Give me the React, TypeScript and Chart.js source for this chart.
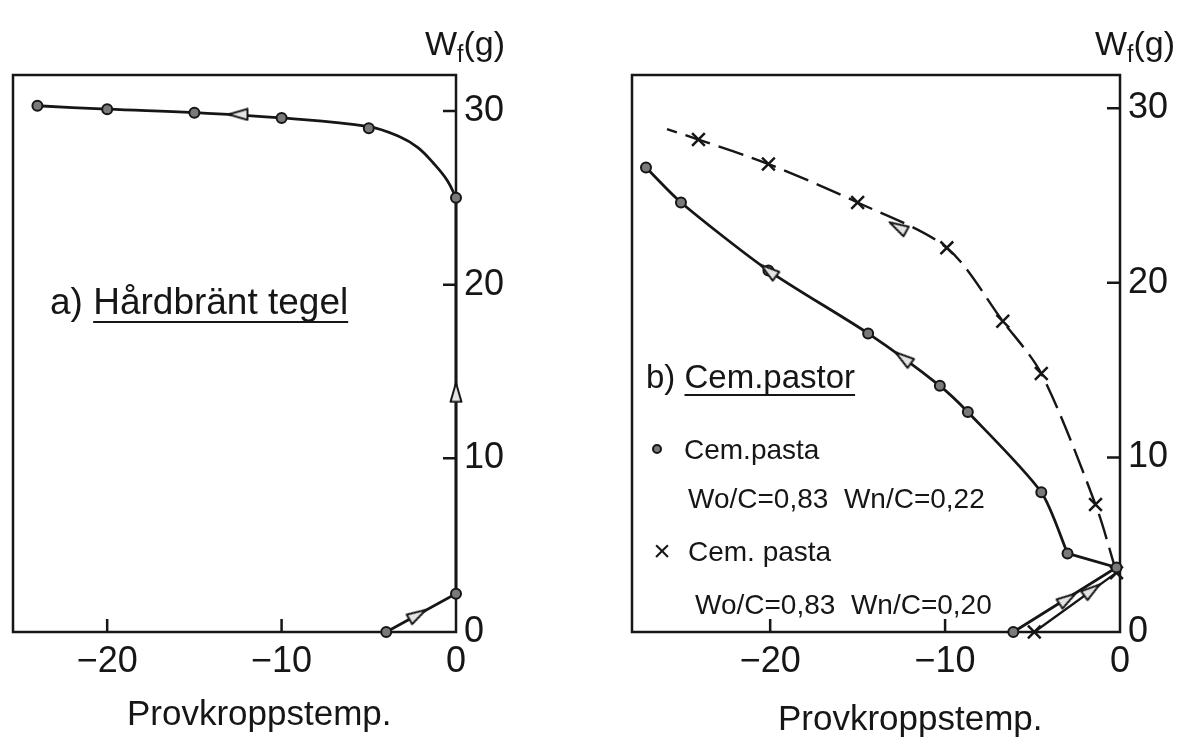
import { useEffect, useRef } from "react";
import { Chart, registerables } from "chart.js";

Chart.register(...registerables);

const FONT = "'Liberation Sans', Arial, sans-serif";
const INK = "#161616";

// ---------- panel a) Hårdbränt tegel ----------
const aTempMeasured = [-4, 0, 0, -5, -10, -15, -20, -24];
const aWfMeasured = [0, 2.2, 25.0, 29.0, 29.6, 29.9, 30.1, 30.3];
const aTempRise = [-4, 0, 0];
const aWfRise = [0, 2.2, 25.0];
const aTempCurve = [0, -0.5, -1.3, -2.2, -3.2, -5, -10, -15, -20, -24];
const aWfCurve = [25.0, 26.0, 27.0, 27.9, 28.5, 29.1, 29.6, 29.9, 30.1, 30.3];
const aTempArrow = [-2.2, 0, -12.5];
const aWfArrow = [1.0, 13.8, 29.8];
const aArrowAngle = [60, 0, -90];

// ---------- panel b) Cem.pastor ----------
// Cem.pasta W0/C=0,83 Wn/C=0,22 (circles)
const bTemp022 = [-27.1, -25.1, -20.1, -14.4, -10.3, -8.7, -4.5, -3.0, -0.2, -6.1];
const bWf022 = [26.6, 24.6, 20.7, 17.1, 14.1, 12.6, 8.0, 4.5, 3.7, 0];
const bTemp022Lower = [-6.1, -0.2, -3.0];
const bWf022Lower = [0, 3.7, 4.5];
const bTemp022Curve = [-3.0, -4.5, -8.7, -10.3, -14.4, -20.1, -25.1, -27.1];
const bWf022Curve = [4.5, 8.0, 12.6, 14.1, 17.1, 20.7, 24.6, 26.6];

// Cem.pasta W0/C=0,83 Wn/C=0,20 (crosses)
const bTemp020 = [-24.1, -20.1, -15.0, -9.9, -6.7, -4.5, -1.4, -0.2, -4.9];
const bWf020 = [28.2, 26.8, 24.6, 22.0, 17.8, 14.8, 7.3, 3.4, 0];
const bTemp020Lower = [-4.9, -0.2];
const bWf020Lower = [0, 3.4];
const bTemp020Curve = [-0.2, -1.4, -4.5, -6.7, -9.9, -15.0, -20.1, -24.1, -25.9];
const bWf020Curve = [3.4, 7.3, 14.8, 17.8, 22.0, 24.6, 26.8, 28.2, 28.8];

const bTempArrow = [-12.4, -20.1, -12.7, -3.0, -1.6];
const bWfArrow = [15.7, 20.7, 23.2, 1.9, 2.4];
const bArrowAngle = [-54, -53, -61, 57, 54];

// ---------- axes ----------
const xTickValues = [-20, -10, 0];
const xTickLabels = ["−20", "−10", "0"];
const yTickValues = [0, 10, 20, 30];
const yTickLabels = ["0", "10", "20", "30"];

const aXMin = -25.4;
const aYMax = 32.07;
const bXMin = -27.9;
const bYMax = 31.9;

const pts = (xs: number[], ys: number[]) => xs.map((x, i) => ({ x, y: ys[i] }));

function makeArrowImage(): HTMLCanvasElement {
  const c = document.createElement("canvas");
  c.width = 14;
  c.height = 22;
  const g = c.getContext("2d") as CanvasRenderingContext2D;
  g.beginPath();
  g.moveTo(7, 1.5);
  g.lineTo(12.5, 20.5);
  g.lineTo(1.5, 20.5);
  g.closePath();
  g.fillStyle = "#e4e4e4";
  g.fill();
  g.strokeStyle = INK;
  g.lineWidth = 2;
  g.lineJoin = "round";
  g.stroke();
  return c;
}

function drawWf(ctx: CanvasRenderingContext2D, rightX: number, baseline: number) {
  ctx.fillStyle = INK;
  ctx.textBaseline = "alphabetic";
  ctx.textAlign = "left";
  ctx.font = `34px ${FONT}`;
  const wW = ctx.measureText("W").width;
  const wg = ctx.measureText("(g)").width;
  ctx.font = `23px ${FONT}`;
  const wf = ctx.measureText("f").width;
  let x = rightX - (wW + wf + wg);
  ctx.font = `34px ${FONT}`;
  ctx.fillText("W", x, baseline);
  x += wW;
  ctx.font = `23px ${FONT}`;
  ctx.fillText("f", x, baseline + 7);
  x += wf;
  ctx.font = `34px ${FONT}`;
  ctx.fillText("(g)", x, baseline);
}

function drawText(ctx: CanvasRenderingContext2D, text: string, x: number, y: number, size: number, align: CanvasTextAlign = "left") {
  ctx.fillStyle = INK;
  ctx.textBaseline = "alphabetic";
  ctx.textAlign = align;
  ctx.font = `${size}px ${FONT}`;
  ctx.fillText(text, x, y);
}

function drawUnderlined(ctx: CanvasRenderingContext2D, prefix: string, body: string, x: number, y: number, size: number, gap: number) {
  drawText(ctx, prefix + body, x, y, size);
  ctx.font = `${size}px ${FONT}`;
  const p = ctx.measureText(prefix).width;
  const f = ctx.measureText(prefix + body).width;
  ctx.strokeStyle = INK;
  ctx.lineWidth = 2;
  ctx.beginPath();
  ctx.moveTo(x + p, y + gap);
  ctx.lineTo(x + f, y + gap);
  ctx.stroke();
}

function decorPlugin(drawTexts: (ctx: CanvasRenderingContext2D) => void) {
  return {
    id: "decor",
    beforeDatasetsDraw(chart: any) {
      const { ctx, chartArea: a, scales } = chart;
      ctx.save();
      ctx.strokeStyle = INK;
      ctx.lineWidth = 2.5;
      ctx.strokeRect(a.left, a.top, a.right - a.left, a.bottom - a.top);
      const xs = scales.x;
      const ys = scales.y;
      ctx.beginPath();
      xs.ticks.forEach((t: any) => {
        if (t.value > xs.min && t.value < xs.max) {
          const px = xs.getPixelForValue(t.value);
          ctx.moveTo(px, a.bottom);
          ctx.lineTo(px, a.bottom - 13);
        }
      });
      ys.ticks.forEach((t: any) => {
        if (t.value > ys.min && t.value < ys.max) {
          const py = ys.getPixelForValue(t.value);
          ctx.moveTo(a.right, py);
          ctx.lineTo(a.right - 13, py);
        }
      });
      ctx.stroke();
      ctx.restore();
    },
    afterDraw(chart: any) {
      const ctx = chart.ctx;
      ctx.save();
      drawTexts(ctx);
      ctx.restore();
    },
  };
}

function makeOptions(xMin: number, yMax: number, padLeft: number, yWidth: number) {
  const tickFont = { family: FONT, size: 36 };
  return {
    responsive: false,
    maintainAspectRatio: false,
    animation: false as const,
    devicePixelRatio: 1,
    layout: { padding: { left: padLeft, top: 75, right: 0, bottom: 0 } },
    plugins: { legend: { display: false }, tooltip: { enabled: false } },
    scales: {
      x: {
        type: "linear" as const,
        position: "bottom" as const,
        min: xMin,
        max: 0,
        afterBuildTicks: (s: any) => {
          s.ticks = xTickValues.map((v) => ({ value: v }));
        },
        afterFit: (s: any) => {
          s.height = 117;
        },
        grid: { display: false, drawTicks: false },
        border: { display: false },
        ticks: {
          font: tickFont,
          color: INK,
          padding: 8,
          maxRotation: 0,
          autoSkip: false,
          callback: (v: any) => xTickLabels[xTickValues.indexOf(Number(v))] ?? "",
        },
      },
      y: {
        type: "linear" as const,
        position: "right" as const,
        min: 0,
        max: yMax,
        afterBuildTicks: (s: any) => {
          s.ticks = yTickValues.map((v) => ({ value: v }));
        },
        afterFit: (s: any) => {
          s.width = yWidth;
        },
        grid: { display: false, drawTicks: false },
        border: { display: false },
        ticks: {
          font: tickFont,
          color: INK,
          padding: 8,
          crossAlign: "near" as const,
          autoSkip: false,
          callback: (v: any) => yTickLabels[yTickValues.indexOf(Number(v))] ?? "",
        },
      },
    },
  };
}

const lineBase = {
  showLine: true,
  pointRadius: 0,
  borderColor: INK,
  borderWidth: 2.8,
  clip: false as const,
};

const circleMarker = {
  showLine: false,
  pointStyle: "circle" as const,
  pointRadius: 5,
  pointBackgroundColor: "#7a7a7a",
  pointBorderColor: INK,
  pointBorderWidth: 2,
  clip: false as const,
};

function arrowMarker() {
  return {
    showLine: false,
    pointStyle: makeArrowImage(),
    pointRadius: 9,
    clip: false as const,
  };
}

function configA() {
  return {
    type: "scatter" as const,
    data: {
      datasets: [
        { ...arrowMarker(), data: pts(aTempArrow, aWfArrow), rotation: aArrowAngle },
        { ...circleMarker, data: pts(aTempMeasured, aWfMeasured) },
        { ...lineBase, data: pts(aTempRise, aWfRise), tension: 0 },
        { ...lineBase, data: pts(aTempCurve, aWfCurve), tension: 0.4 },
      ],
    },
    options: makeOptions(aXMin, aYMax, 13, 135),
    plugins: [
      decorPlugin((ctx) => {
        drawWf(ctx, 505, 55);
        drawUnderlined(ctx, "a) ", "Hårdbränt tegel", 50, 314, 37, 8);
        drawText(ctx, "Provkroppstemp.", 127, 725, 35);
      }),
    ],
  };
}

function configB() {
  return {
    type: "scatter" as const,
    data: {
      datasets: [
        { ...arrowMarker(), data: pts(bTempArrow, bWfArrow), rotation: bArrowAngle },
        { ...circleMarker, data: pts(bTemp022, bWf022) },
        {
          showLine: false,
          pointStyle: "crossRot" as const,
          pointRadius: 9,
          pointBorderColor: INK,
          pointBorderWidth: 2.5,
          clip: false as const,
          data: pts(bTemp020, bWf020),
        },
        { ...lineBase, data: pts(bTemp022Lower, bWf022Lower), tension: 0 },
        { ...lineBase, data: pts(bTemp022Curve, bWf022Curve), tension: 0.25 },
        { ...lineBase, data: pts(bTemp020Lower, bWf020Lower), tension: 0, borderWidth: 2.4 },
        { ...lineBase, data: pts(bTemp020Curve, bWf020Curve), tension: 0.3, borderWidth: 2.4, borderDash: [26, 9] },
      ],
    },
    options: makeOptions(bXMin, bYMax, 41, 63),
    plugins: [
      decorPlugin((ctx) => {
        drawWf(ctx, 584, 55);
        drawUnderlined(ctx, "b) ", "Cem.pastor", 55, 388, 33, 7);
        ctx.fillStyle = "#7a7a7a";
        ctx.strokeStyle = INK;
        ctx.lineWidth = 2;
        ctx.beginPath();
        ctx.arc(66, 449, 4, 0, Math.PI * 2);
        ctx.fill();
        ctx.stroke();
        drawText(ctx, "Cem.pasta", 93, 459, 28);
        drawText(ctx, "Wo/C=0,83  Wn/C=0,22", 97, 508, 28);
        drawText(ctx, "×", 71, 561, 30, "center");
        drawText(ctx, "Cem. pasta", 97, 561, 28);
        drawText(ctx, "Wo/C=0,83  Wn/C=0,20", 104, 614, 28);
        drawText(ctx, "Provkroppstemp.", 187, 730, 35);
      }),
    ],
  };
}

function Panel({ make, left, width }: { make: () => any; left: number; width: number }) {
  const ref = useRef<HTMLCanvasElement>(null);
  useEffect(() => {
    const chart = new Chart(ref.current as HTMLCanvasElement, make());
    return () => chart.destroy();
  }, []);
  return (
    <canvas
      ref={ref}
      width={width}
      height={749}
      style={{ position: "absolute", left, top: 0, width, height: 749 }}
    />
  );
}

export default function App() {
  return (
    <div style={{ position: "absolute", left: 0, top: 0, width: 1183, height: 749, background: "#fff", overflow: "hidden" }}>
      <Panel make={configA} left={0} width={591} />
      <Panel make={configB} left={591} width={592} />
    </div>
  );
}
